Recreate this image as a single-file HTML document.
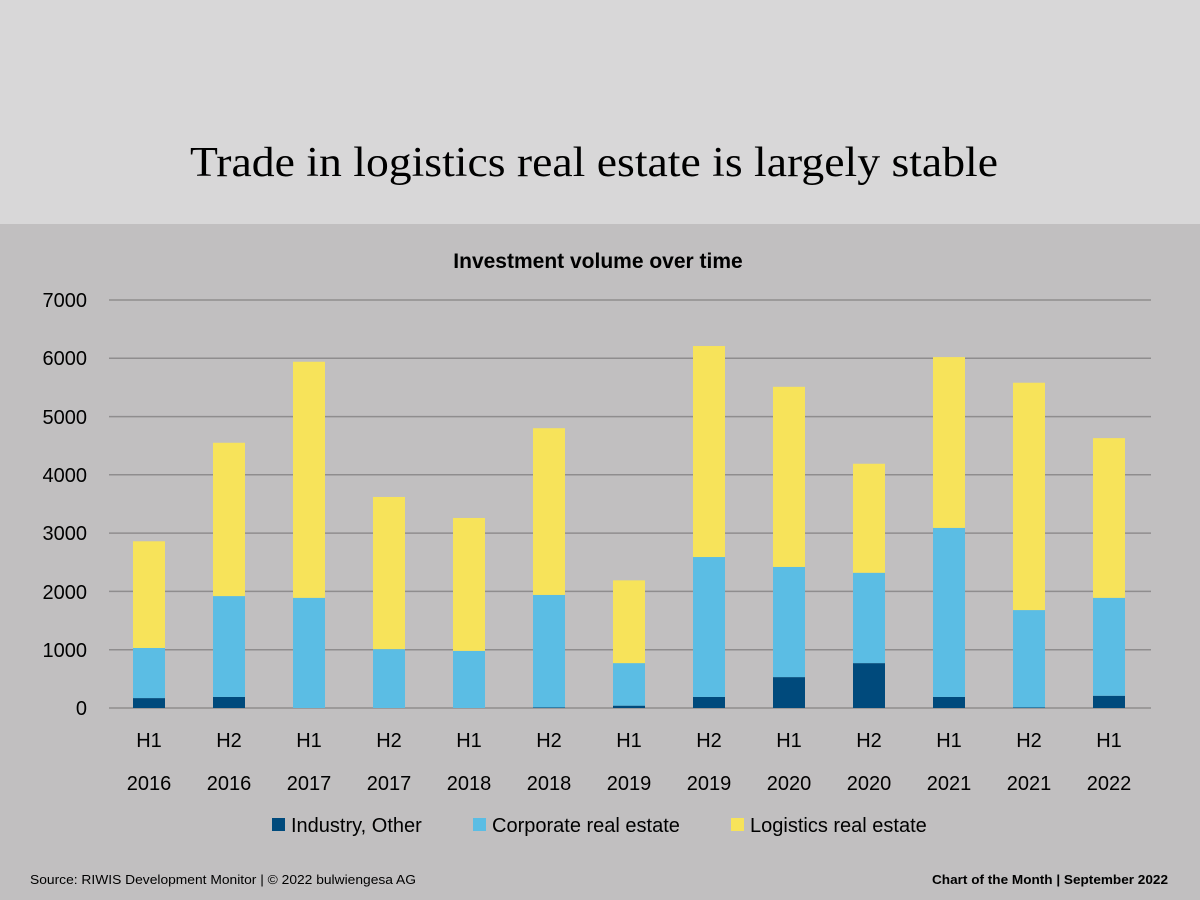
<!DOCTYPE html>
<html><head><meta charset="utf-8"><style>
html,body{margin:0;padding:0;width:1200px;height:900px;overflow:hidden;background:#c1bfc0}
</style></head><body>
<svg width="1200" height="900" xmlns="http://www.w3.org/2000/svg" font-family="Liberation Sans, sans-serif">
<rect x="0" y="0" width="1200" height="224" fill="#d8d7d8"/>
<rect x="0" y="224" width="1200" height="676" fill="#c1bfc0"/>
<text x="190" y="176" font-family="Liberation Serif, serif" font-size="42" fill="#000" textLength="808" lengthAdjust="spacingAndGlyphs">Trade in logistics real estate is largely stable</text>
<text x="598" y="268" text-anchor="middle" font-size="21" font-weight="bold" fill="#000">Investment volume over time</text>
<g stroke="#8f8d8e" stroke-width="1.5">
<line x1="109" x2="1151" y1="300" y2="300"/><line x1="109" x2="1151" y1="358.3" y2="358.3"/>
<line x1="109" x2="1151" y1="416.6" y2="416.6"/><line x1="109" x2="1151" y1="474.8" y2="474.8"/>
<line x1="109" x2="1151" y1="533.1" y2="533.1"/><line x1="109" x2="1151" y1="591.4" y2="591.4"/>
<line x1="109" x2="1151" y1="649.7" y2="649.7"/><line x1="109" x2="1151" y1="708" y2="708"/>
</g>
<g font-size="20" fill="#000" text-anchor="end">
<text x="87" y="307">7000</text><text x="87" y="365">6000</text><text x="87" y="424">5000</text>
<text x="87" y="482">4000</text><text x="87" y="540">3000</text><text x="87" y="599">2000</text>
<text x="87" y="657">1000</text><text x="87" y="715">0</text>
</g>
<g id="bars"></g>
<g font-size="20" fill="#000" text-anchor="middle" id="labels"></g>
<g font-size="20" fill="#000">
<rect x="272" y="818" width="13" height="13" fill="#004a7c"/><text x="291" y="832">Industry, Other</text>
<rect x="473" y="818" width="13" height="13" fill="#5bbde4"/><text x="492" y="832">Corporate real estate</text>
<rect x="731" y="818" width="13" height="13" fill="#f7e35a"/><text x="750" y="832">Logistics real estate</text>
</g>
<text x="30" y="884" font-size="13" fill="#000" textLength="386" lengthAdjust="spacingAndGlyphs">Source: RIWIS Development Monitor | © 2022 bulwiengesa AG</text>
<text x="932" y="884" font-size="13" font-weight="bold" fill="#000" textLength="236" lengthAdjust="spacingAndGlyphs">Chart of the Month | September 2022</text>
</svg>
<script>
var d=[[170,1030,2860],[190,1920,4550],[0,1890,5940],[0,1010,3620],[0,980,3260],[10,1940,4800],[40,770,2190],[190,2590,6210],[530,2420,5510],[770,2320,4190],[190,3090,6020],[10,1680,5580],[210,1890,4630]];
var lab=[["H1","2016"],["H2","2016"],["H1","2017"],["H2","2017"],["H1","2018"],["H2","2018"],["H1","2019"],["H2","2019"],["H1","2020"],["H2","2020"],["H1","2021"],["H2","2021"],["H1","2022"]];
var ns="http://www.w3.org/2000/svg",g=document.getElementById("bars"),L=document.getElementById("labels");
function Y(v){return 708-v*0.05829;}
function r(x,y1,y2,c){var e=document.createElementNS(ns,"rect");e.setAttribute("x",x);e.setAttribute("y",Y(y2));e.setAttribute("width",32);e.setAttribute("height",Y(y1)-Y(y2));e.setAttribute("fill",c);g.appendChild(e);}
function t(x,y,s){var e=document.createElementNS(ns,"text");e.setAttribute("x",x);e.setAttribute("y",y);e.textContent=s;L.appendChild(e);}
d.forEach(function(b,i){var cx=149+i*80,x=cx-16;r(x,0,b[0],"#004a7c");r(x,b[0],b[1],"#5bbde4");r(x,b[1],b[2],"#f7e35a");t(cx,747,lab[i][0]);t(cx,790,lab[i][1]);});
</script>
</body></html>
